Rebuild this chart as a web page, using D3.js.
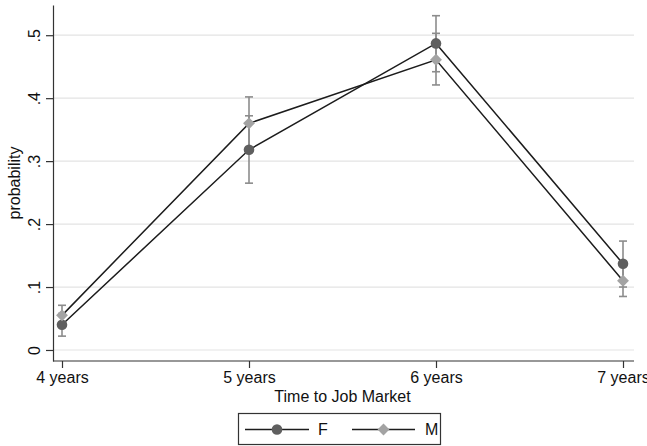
<!DOCTYPE html>
<html>
<head>
<meta charset="utf-8">
<script src="https://cdn.jsdelivr.net/npm/d3@7"></script>
<style>
  html, body { margin: 0; padding: 0; background: #fff; }
  svg { display: block; font-family: "Liberation Sans", Arial, Helvetica, sans-serif; }
</style>
</head>
<body>
<svg id="chart" width="647" height="446"></svg>
<script>
// Predicted probability by time to job market, with 95% confidence intervals
const categories = ["4 years", "5 years", "6 years", "7 years"];
const seriesNames = ["F", "M"];
const fValues = [0.040, 0.318, 0.487, 0.137];
const fLower  = [0.022, 0.265, 0.442, 0.100];
const fUpper  = [0.058, 0.372, 0.531, 0.173];
const mValues = [0.055, 0.360, 0.461, 0.110];
const mLower  = [0.038, 0.318, 0.421, 0.085];
const mUpper  = [0.071, 0.402, 0.503, 0.135];
const yTicks = [0, 0.1, 0.2, 0.3, 0.4, 0.5];
const yTickLabels = ["0", ".1", ".2", ".3", ".4", ".5"];

const svg = d3.select("#chart");

const plot = { left: 53, right: 634, top: 5, bottom: 361 };

const x = d3.scalePoint().domain(categories).range([62, 623]);
const y = d3.scaleLinear().domain([-0.0175, 0.548]).range([plot.bottom, plot.top]);

// gridlines
svg.append("g").selectAll("line").data(yTicks).join("line")
  .attr("x1", plot.left).attr("x2", plot.right)
  .attr("y1", d => y(d)).attr("y2", d => y(d))
  .attr("stroke", "#e3e3e3").attr("stroke-width", 1.2);

// y axis
const yAxis = svg.append("g").attr("transform", `translate(${plot.left},0)`)
  .call(d3.axisLeft(y).tickValues(yTicks).tickSize(7).tickSizeOuter(0)
    .tickFormat((d, i) => yTickLabels[i]));
yAxis.select(".domain").attr("stroke", "#333").attr("stroke-width", 1.2);
yAxis.selectAll(".tick line").attr("stroke", "#333").attr("stroke-width", 1.2);
yAxis.selectAll(".tick text")
  .attr("font-size", 16).attr("fill", "#111")
  .attr("transform", "rotate(-90)")
  .attr("x", 0).attr("y", -13).attr("dy", 0)
  .attr("text-anchor", "middle");

// x axis
const xAxis = svg.append("g").attr("transform", `translate(0,${plot.bottom})`)
  .call(d3.axisBottom(x).tickSize(7).tickSizeOuter(0));
xAxis.select(".domain").remove();
xAxis.append("line")
  .attr("x1", plot.left).attr("x2", plot.right)
  .attr("stroke", "#333").attr("stroke-width", 1.2);
xAxis.selectAll(".tick line").attr("stroke", "#333").attr("stroke-width", 1.2);
xAxis.selectAll(".tick text")
  .attr("font-size", 16).attr("fill", "#111").attr("y", 11).attr("dy", "0.71em");

// axis titles
svg.append("text")
  .attr("transform", `translate(20,${(plot.top + plot.bottom) / 2}) rotate(-90)`)
  .attr("text-anchor", "middle")
  .attr("font-size", 16).attr("fill", "#111")
  .text("probability");
svg.append("text")
  .attr("x", (62 + 623) / 2).attr("y", 402)
  .attr("text-anchor", "middle")
  .attr("font-size", 16).attr("fill", "#111")
  .text("Time to Job Market");

const series = [
  { name: seriesNames[0], values: fValues, lower: fLower, upper: fUpper, fill: "#5f5f5f", shape: "circle" },
  { name: seriesNames[1], values: mValues, lower: mLower, upper: mUpper, fill: "#a3a3a3", shape: "diamond" }
];

const ciColor = "#8c8c8c";
const capHalf = 4;

// confidence intervals
series.forEach(s => {
  const g = svg.append("g");
  const rows = categories.map((c, i) => ({ c, lo: s.lower[i], hi: s.upper[i] }));
  g.selectAll("line.stem").data(rows).join("line")
    .attr("x1", d => x(d.c)).attr("x2", d => x(d.c))
    .attr("y1", d => y(d.lo)).attr("y2", d => y(d.hi))
    .attr("stroke", ciColor).attr("stroke-width", 1.6);
  ["lo", "hi"].forEach(k => {
    g.selectAll("line.cap-" + k).data(rows).join("line")
      .attr("x1", d => x(d.c) - capHalf).attr("x2", d => x(d.c) + capHalf)
      .attr("y1", d => y(d[k])).attr("y2", d => y(d[k]))
      .attr("stroke", ciColor).attr("stroke-width", 1.6);
  });
});

// connecting lines
const line = d3.line().x((d, i) => x(categories[i])).y(d => y(d));
series.forEach(s => {
  svg.append("path").datum(s.values)
    .attr("d", line)
    .attr("fill", "none").attr("stroke", "#1c1c1c").attr("stroke-width", 1.5);
});

// markers
const circleSym = d3.symbol().type(d3.symbolCircle).size(Math.PI * 5.3 * 5.3);
const diamondSym = d3.symbol().type(d3.symbolSquare).size(8.4 * 8.4);
function drawMarker(g, shape, cx, cy, fill) {
  if (shape === "circle") {
    g.append("path").attr("d", circleSym()).attr("transform", `translate(${cx},${cy})`)
      .attr("fill", fill);
  } else {
    g.append("path").attr("d", diamondSym()).attr("transform", `translate(${cx},${cy}) rotate(45)`)
      .attr("fill", fill);
  }
}
series.forEach(s => {
  const g = svg.append("g");
  s.values.forEach((v, i) => drawMarker(g, s.shape, x(categories[i]), y(v), s.fill));
});

// legend
const legend = svg.append("g");
legend.append("rect")
  .attr("x", 238.5).attr("y", 413.5).attr("width", 202).attr("height", 31)
  .attr("fill", "#fff").attr("stroke", "#333").attr("stroke-width", 1.2);
const legendItems = [
  { s: series[0], x0: 245, x1: 309, tx: 318 },
  { s: series[1], x0: 352, x1: 415, tx: 425 }
];
legendItems.forEach(it => {
  const cy = 429.5;
  legend.append("line")
    .attr("x1", it.x0).attr("x2", it.x1).attr("y1", cy).attr("y2", cy)
    .attr("stroke", "#1c1c1c").attr("stroke-width", 1.5);
  drawMarker(legend, it.s.shape, (it.x0 + it.x1) / 2, cy, it.s.fill);
  legend.append("text")
    .attr("x", it.tx).attr("y", cy).attr("dy", "0.36em")
    .attr("font-size", 16).attr("fill", "#111")
    .text(it.s.name);
});
</script>
</body>
</html>
